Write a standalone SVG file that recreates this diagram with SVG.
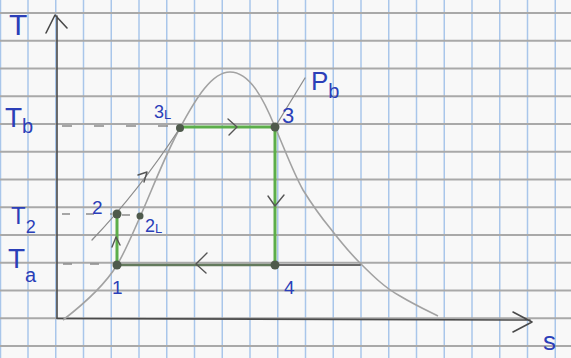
<svg xmlns="http://www.w3.org/2000/svg" width="571" height="358" viewBox="0 0 571 358">
<defs>
<style>
.gh{stroke:#a9a9a9;stroke-width:1.8;fill:none}
.gv{stroke:#a9c6ea;stroke-width:1.5;fill:none}
.axis{stroke:#4a4a4a;stroke-width:1.6;fill:none;stroke-linecap:round;stroke-linejoin:round}
.dome{stroke:#a2a2a2;stroke-width:1.6;fill:none}
.iso{stroke:#8c8c8c;stroke-width:1.3;fill:none;stroke-linecap:round}
.cyc{stroke:#5cae4a;stroke-width:3;fill:none}
.cycd{stroke:#637a5c;stroke-width:2.6;fill:none}
.arr{stroke:#555;stroke-width:1.4;fill:none;stroke-linecap:round;stroke-linejoin:round}
.dash{stroke:#8a8a8a;stroke-width:1.5;fill:none}
.dot{fill:#4f5a4c}
.lbl{font-family:"Liberation Sans","DejaVu Sans",sans-serif;fill:#2b3fb8}
</style>
</defs>
<rect width="571" height="358" fill="#f8f8f8"/>
<g id="grid">
<path class="gv" d="M0.5,0V358M28,0V358M55.75,0V358M83.5,0V358M111.25,0V358M139,0V358M166.75,0V358M194.5,0V358M222.25,0V358M250,0V358M277.75,0V358M305.5,0V358M333.25,0V358M361,0V358M388.75,0V358M416.5,0V358M444.25,0V358M472,0V358M499.75,0V358M527.5,0V358M555.25,0V358"/>
<path class="gh" d="M0,13H571M0,40.75H571M0,68.5H571M0,96.25H571M0,124H571M0,151.75H571M0,179.5H571M0,207.25H571M0,235H571M0,262.75H571M0,290.5H571M0,318.25H571M0,346H571"/>
</g>
<g id="axes">
<path class="axis" d="M57,318V16M46,33L55,15L67,28"/>
<path class="axis" d="M57,318.5L530,320M513,312L532,322L513,332"/>
<text class="lbl" x="9" y="35" font-size="30">T</text>
<text class="lbl" x="543" y="350" font-size="26">s</text>
<text class="lbl" x="5" y="127" font-size="28">T<tspan font-size="20" dy="6">b</tspan></text>
<text class="lbl" x="11" y="224" font-size="24">T<tspan font-size="18" dy="9">2</tspan></text>
<text class="lbl" x="8" y="268" font-size="28">T<tspan font-size="20" dy="14">a</tspan></text>
</g>
<g id="connectors">
<path class="dome" d="M63,320C85,303 105,285 117,265C125,252 132,235 140,217C152,190 165,155 180,128C196,98 212,72 230,72C250,72 264,100 275,127C285,150 293,172 303,190C313,206 320,216 330,228C340,241 350,253 360,263C372,275 385,288 400,296C415,305 428,311 438,316"/>
<path class="iso" d="M92,240Q138,192 180,128M275,127L305,78"/>
<path class="arr" d="M138,175L147,172L144,182"/>
<path class="dash" stroke-dasharray="10 22" d="M62,126H178"/>
<path class="dash" stroke-dasharray="8 16" d="M62,214H112M122,215H138"/>
<path class="dash" stroke-dasharray="9 18" d="M63,264H113"/>
<path class="cyc" d="M117,264V214"/>
<path class="cyc" d="M180,127H275V265"/>
<path class="cycd" d="M117,265H275"/>
<path class="iso" style="stroke-width:2;stroke:#6a6a6a" d="M275,265H360"/>
<path class="arr" d="M112,247L116,237L120,245"/>
<path class="arr" d="M228,119L237,127L229,135"/>
<path class="arr" d="M268,196L275,206L284,195"/>
<path class="arr" d="M207,253L196,264L206,273"/>
</g>
<g id="node-1"><circle class="dot" cx="117" cy="265" r="4.5"/><text class="lbl" x="112" y="294" font-size="19">1</text></g>
<g id="node-2"><circle class="dot" cx="117" cy="214" r="4.5"/><text class="lbl" x="92" y="214" font-size="19">2</text></g>
<g id="node-2l"><circle class="dot" cx="140" cy="216" r="3.5"/><text class="lbl" x="145" y="232" font-size="18">2<tspan font-size="13" dy="1">L</tspan></text></g>
<g id="node-3l"><circle class="dot" cx="180" cy="128" r="4"/><text class="lbl" x="154" y="118" font-size="18">3<tspan font-size="13" dy="1">L</tspan></text></g>
<g id="node-3"><circle class="dot" cx="275" cy="127" r="4.5"/><text class="lbl" x="282" y="123" font-size="22">3</text></g>
<g id="node-4"><circle class="dot" cx="275" cy="265" r="4.5"/><text class="lbl" x="284" y="294" font-size="19">4</text></g>
<g id="label-pb"><text class="lbl" x="311" y="90" font-size="26">P<tspan font-size="20" dy="8">b</tspan></text></g>
</svg>
